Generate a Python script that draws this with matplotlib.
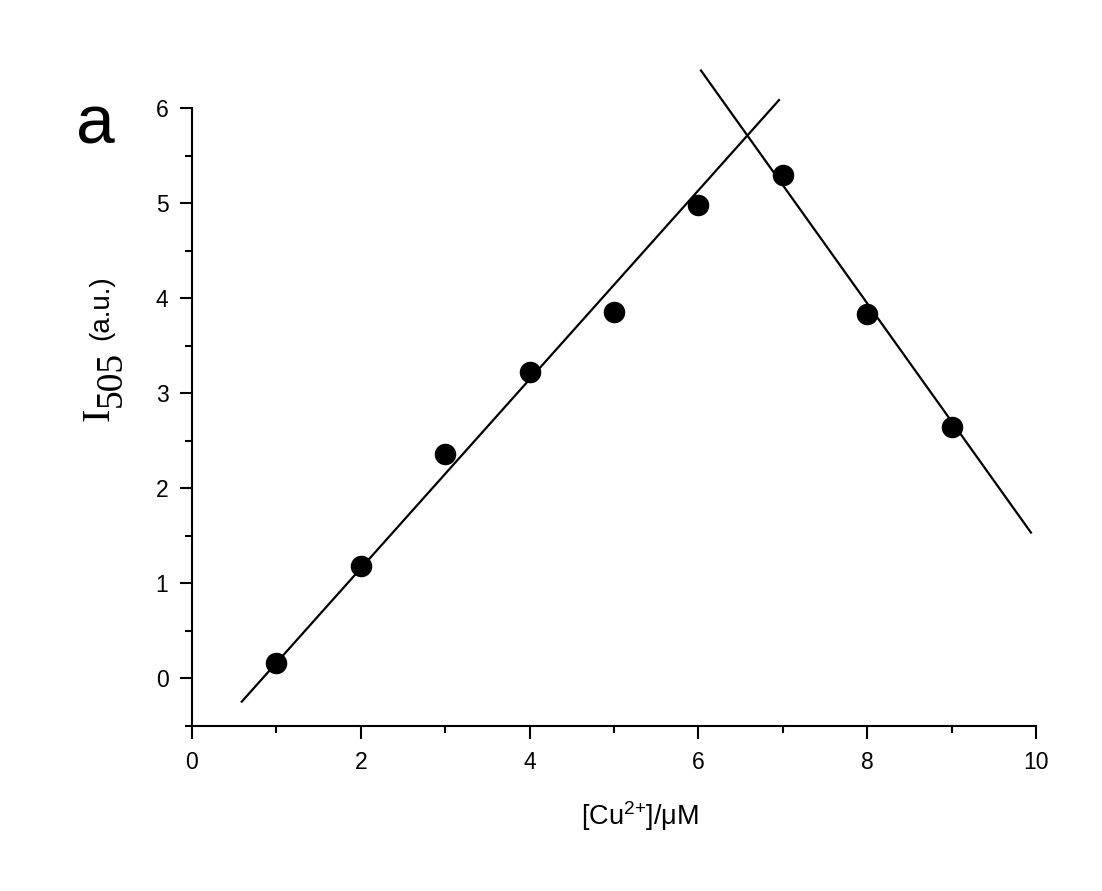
import numpy as np
import matplotlib
matplotlib.use("Agg")
import matplotlib.pyplot as plt
from matplotlib.ticker import MultipleLocator

plt.rcParams['font.family'] = ['Liberation Sans', 'DejaVu Sans']
plt.rcParams['mathtext.default'] = 'regular'

# data
conc = np.array([1, 2, 3, 4, 5, 6, 7, 8, 9])
intensity = np.array([0.16, 1.18, 2.36, 3.22, 3.85, 4.98, 5.30, 3.83, 2.65])

# linear fits: slope, intercept, x range drawn
rise_fit = (0.994, -0.83, (0.59, 6.955))
fall_fit = (-1.243, 13.89, (6.03, 9.94))

W, H = 1102, 891
fig = plt.figure(figsize=(W / 100, H / 100), dpi=100)
ax = fig.add_axes([192 / W, 1 - 726 / H, (1036 - 192) / W, (726 - 108) / H])

ax.plot(conc, intensity, 'o', color='black', markersize=14.5, zorder=3, clip_on=False)
for slope, icpt, (x0, x1) in (rise_fit, fall_fit):
    xs = np.array([x0, x1])
    ax.plot(xs, slope * xs + icpt, color='black', lw=1.6, clip_on=False)

ax.set_xlim(0, 10)
ax.set_ylim(-0.5, 6)
ax.spines['top'].set_visible(False)
ax.spines['right'].set_visible(False)
ax.spines['left'].set_bounds(-0.5, 6)
for s in ('left', 'bottom'):
    ax.spines[s].set_linewidth(1.5)

ax.xaxis.set_major_locator(MultipleLocator(2))
ax.xaxis.set_minor_locator(MultipleLocator(1))
ax.yaxis.set_major_locator(MultipleLocator(1))
ax.yaxis.set_minor_locator(MultipleLocator(0.5))
ax.tick_params(which='major', direction='out', length=9, width=1.5, labelsize=16.5)
ax.tick_params(axis='x', which='major', pad=9)
ax.tick_params(axis='y', which='major', pad=8)
ax.tick_params(which='minor', direction='out', length=5, width=1.5)

def px(x, y):
    return x / W, 1 - y / H

# panel letter
fig.text(*px(76, 144), 'a', fontsize=50, ha='left', va='baseline')

# y label built from pieces: serif I, serif 505, sans (a.u.)
fig.text(*px(109, 421), 'I', family='Liberation Serif', fontsize=29,
         rotation=90, rotation_mode='anchor', ha='left', va='baseline')
fig.text(*px(120.5, 407), '505', family='Liberation Serif', fontsize=27,
         rotation=90, rotation_mode='anchor', ha='left', va='baseline')
fig.text(*px(108, 340), '(a.u.)', fontsize=20,
         rotation=90, rotation_mode='anchor', ha='left', va='baseline')

# x label
fig.text(*px(640, 825), '[Cu$^{2{+}}$]/μM', fontsize=19.5, ha='center', va='baseline')

fig.savefig('out.png', dpi=100, facecolor='white')
